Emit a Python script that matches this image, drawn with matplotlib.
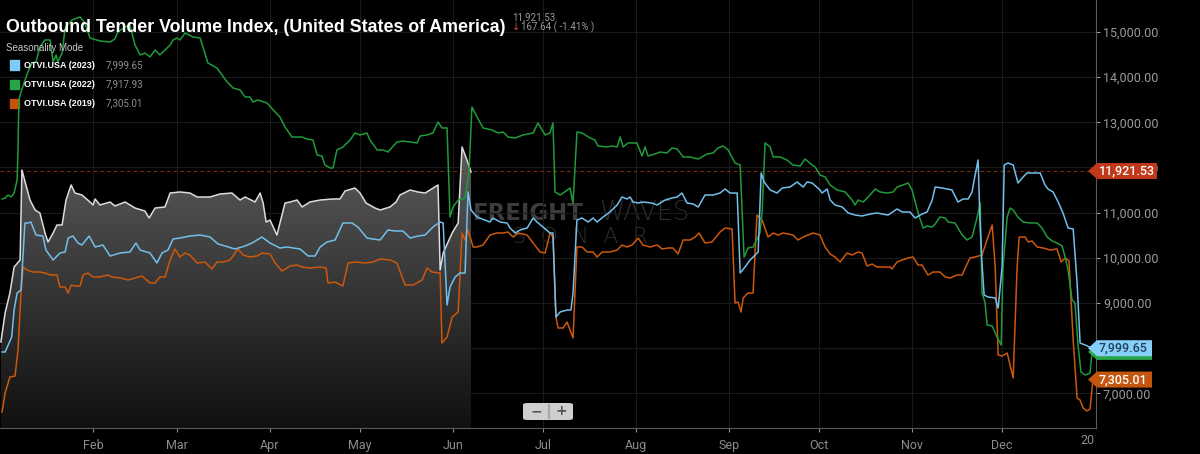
import numpy as np
import matplotlib
matplotlib.use("Agg")
import matplotlib.pyplot as plt
from matplotlib.colors import LinearSegmentedColormap
from matplotlib.patches import Polygon, FancyBboxPatch, Rectangle

# ----- data (day of year, index value) -----
months = ["Feb", "Mar", "Apr", "May", "Jun", "Jul", "Aug", "Sep", "Oct", "Nov", "Dec"]
month_days = [31, 59, 90, 120, 151, 181, 212, 243, 273, 304, 334]
y_ticks = [7000, 8000, 9000, 10000, 11000, 12000, 13000, 14000, 15000]

# shaded (selected) series, only drawn up to early June
days_sel = [0.3, 1.7, 3.3, 4.7, 6.7, 7.3, 10.0, 11.7, 13.3, 15.0, 16.0, 17.7, 19.0, 20.7, 22.0, 23.7,
            25.0, 27.3, 30.0, 31.0, 31.7, 33.3, 36.7, 38.3, 41.7, 45.0, 48.3, 49.7, 51.7, 55.0, 56.7,
            60.0, 63.3, 65.7, 70.0, 73.3, 77.3, 80.0, 81.7, 85.0, 86.7, 87.7, 88.7, 90.0, 92.3, 95.0,
            96.7, 99.0, 100.7, 103.3, 106.7, 111.0, 113.3, 115.0, 118.3, 120.0, 122.0, 125.0, 126.7,
            130.0, 132.0, 133.3, 136.7, 139.3, 141.7, 146.0, 146.7, 147.7, 150.7, 152.7, 154.0, 156.0,
            157.0]
otvi_sel = [8137, 8779, 9221, 9797, 9952, 11945, 11280, 11059, 10993, 10550, 10351, 10550, 10727,
            10727, 11280, 11613, 11435, 11391, 11236, 11170, 11303, 11170, 11236, 11148, 11236, 11103,
            11037, 10882, 11103, 11126, 11435, 11458, 11435, 11347, 11347, 11413, 11435, 11280, 11347,
            11236, 11435, 11214, 10793, 10837, 10505, 11214, 11236, 11280, 11126, 11236, 11280, 11303,
            11303, 11480, 11546, 11435, 11214, 11103, 11059, 11126, 11236, 11391, 11502, 11458, 11435,
            11613, 9731, 10107, 10550, 10771, 12454, 12100, 11900]

days_23 = [0.7, 1.7, 3.9, 4.7, 5.7, 7.0, 8.3, 9.3, 10.3, 12.0, 14.3, 15.3, 17.7, 20.0, 21.7, 22.7,
           24.3, 26.0, 27.3, 29.7, 31.7, 34.3, 36.7, 40.0, 43.3, 45.3, 46.7, 50.0, 52.3, 54.0, 56.0,
           57.7, 60.0, 63.3, 66.7, 70.0, 72.7, 75.0, 78.3, 81.7, 84.0, 87.3, 90.0, 93.3, 95.7, 97.7,
           100.0, 102.7, 105.0, 106.7, 109.0, 111.7, 114.3, 117.3, 119.3, 122.3, 124.3, 126.7, 129.3,
           131.7, 134.3, 136.7, 139.3, 141.7, 144.3, 146.7, 147.7, 149.0, 150.0, 151.7, 153.3, 155.0,
           156.0, 157.0, 159.0, 163.3, 164.3, 166.7, 169.0, 170.0, 171.7, 173.3, 175.7, 177.7, 179.0,
           181.0, 183.3, 184.3, 185.3, 186.7, 189.0, 190.3, 191.0, 192.3, 194.0, 196.0, 197.7, 199.0,
           201.0, 203.3, 205.7, 207.3, 209.0, 210.0, 211.0, 212.7, 214.3, 217.3, 219.0, 221.7, 224.0,
           225.7, 227.3, 229.0, 231.0, 232.7, 235.0, 237.7, 240.0, 241.7, 243.3, 245.7, 246.7, 248.3,
           250.0, 252.7, 253.7, 254.7, 256.7, 259.0, 260.7, 263.3, 265.7, 267.7, 269.0, 270.7, 273.3,
           274.0, 275.7, 276.7, 278.3, 280.7, 282.7, 285.0, 287.3, 290.0, 292.3, 296.0, 299.0, 300.7,
           303.3, 305.0, 307.3, 309.0, 310.7, 311.7, 314.0, 317.3, 319.3, 321.0, 322.7, 324.0, 324.7,
           326.0, 326.7, 327.3, 328.0, 329.3, 331.7, 332.7, 334.0, 334.7, 336.0, 337.7, 339.3, 340.7,
           342.3, 346.7, 348.3, 349.3, 351.0, 352.7, 354.3, 356.0, 357.7, 359.0, 360.0, 361.7, 364.0]
otvi_23 = [7916, 7916, 8247, 8845, 9221, 9288, 10771, 10771, 10793, 10505, 10483, 10173, 9952, 10107,
           10129, 10439, 10483, 10328, 10284, 10483, 10240, 10284, 10041, 10107, 10129, 10328, 10173,
           10107, 9886, 10107, 10173, 10417, 10439, 10483, 10505, 10461, 10306, 10262, 10196, 10262,
           10328, 10461, 10328, 10218, 10240, 10218, 10196, 10041, 10041, 10240, 10351, 10395, 10771,
           10771, 10682, 10439, 10417, 10395, 10616, 10594, 10594, 10439, 10483, 10505, 10682, 10793,
           10771, 8956, 9354, 9576, 9664, 9664, 11458, 11059, 10904, 10793, 10882, 10793, 10771, 10660,
           10550, 10616, 10660, 10882, 10793, 10682, 10550, 10550, 8690, 8801, 8845, 8845, 9221, 10837,
           10882, 10793, 10882, 10793, 10904, 11015, 11170, 11347, 11303, 11347, 11236, 11214, 11236,
           11214, 11170, 11280, 11325, 11347, 11435, 11214, 11192, 11126, 11391, 11391, 11435, 11524,
           11435, 11435, 9664, 9797, 9952, 10129, 11878, 11679, 11502, 11435, 11546, 11568, 11679,
           11568, 11679, 11657, 11502, 11435, 11524, 11280, 11170, 11126, 10993, 10948, 10926, 10970,
           10993, 10948, 11081, 11015, 11015, 10882, 10970, 11015, 11280, 11568, 11546, 11502, 11236,
           11303, 11303, 11458, 11723, 12166, 10682, 9886, 9177, 9133, 9111, 8890, 9797, 12055, 12100,
           12055, 11657, 11768, 11878, 11878, 11613, 11524, 11458, 11236, 10993, 10660, 10638, 9443,
           8114, 8070, 7999.65]

days_22 = [0.7, 1.7, 2.7, 3.7, 4.7, 5.7, 6.0, 6.3, 7.0, 8.0, 9.3, 10.7, 12.0, 13.3, 15.0, 16.7, 17.7,
           18.7, 19.3, 20.7, 21.7, 24.0, 26.7, 28.3, 30.0, 33.3, 36.7, 38.3, 39.3, 41.7, 43.3, 45.0,
           46.7, 48.3, 50.0, 51.7, 53.3, 55.0, 56.7, 57.7, 59.0, 60.0, 61.7, 64.3, 66.7, 69.3, 72.3,
           75.7, 77.7, 80.0, 81.7, 83.3, 84.3, 86.0, 89.0, 91.7, 93.3, 95.0, 97.3, 100.7, 102.3, 104.3,
           105.7, 107.3, 108.3, 110.0, 111.0, 112.3, 114.3, 116.7, 118.3, 120.0, 122.3, 123.3, 125.7,
           127.7, 129.3, 132.3, 134.3, 136.7, 139.0, 140.0, 142.3, 144.3, 146.0, 147.3, 149.0, 150.0,
           151.0, 152.7, 155.0, 156.3, 157.3, 159.0, 161.0, 164.0, 166.0, 167.7, 169.3, 171.7, 174.3,
           177.7, 179.3, 181.7, 183.3, 184.3, 185.0, 186.7, 187.7, 190.0, 191.0, 192.3, 194.0, 196.7,
           198.3, 199.3, 202.3, 204.0, 205.7, 206.7, 207.7, 209.3, 212.3, 214.0, 215.0, 216.0, 218.3,
           220.0, 222.3, 224.0, 225.7, 227.7, 230.0, 232.7, 235.7, 237.7, 239.3, 241.0, 242.7, 245.0,
           246.7, 248.0, 249.3, 251.0, 253.3, 254.0, 255.0, 256.7, 257.7, 260.0, 262.3, 264.3, 266.7,
           268.3, 270.7, 271.7, 273.3, 275.0, 276.7, 279.0, 281.7, 284.0, 285.0, 286.0, 287.7, 290.0,
           291.7, 293.3, 295.7, 297.7, 299.0, 301.0, 302.7, 304.0, 306.0, 307.7, 309.0, 310.7, 311.7,
           313.3, 315.0, 316.0, 318.3, 320.7, 322.3, 324.0, 325.7, 326.7, 327.3, 328.3, 329.0, 330.7,
           332.3, 333.7, 334.3, 335.7, 336.7, 337.7, 339.0, 341.0, 343.3, 345.7, 347.3, 349.0, 350.7,
           352.3, 354.0, 355.0, 356.0, 357.3, 358.3, 359.3, 360.3, 361.7, 363.3, 364.0]
otvi_22 = [11303, 11325, 11391, 11347, 11435, 11723, 12388, 13494, 13672, 13871, 14114, 14314, 14336,
           14668, 14823, 14823, 14336, 14491, 14336, 14535, 15089, 15266, 15332, 15199, 14867, 14801,
           14779, 14845, 15000, 15111, 15155, 14712, 14491, 14535, 14446, 14601, 14491, 14601, 14712,
           14823, 14867, 14823, 14978, 14889, 14867, 14314, 14203, 13893, 13760, 13716, 13561, 13561,
           13450, 13494, 13428, 13229, 13118, 12897, 12675, 12675, 12631, 12609, 12277, 12255, 12055,
           11989, 11989, 12388, 12454, 12609, 12764, 12720, 12764, 12609, 12388, 12388, 12343, 12565,
           12587, 12565, 12543, 12697, 12720, 12764, 13007, 12875, 12875, 10904, 11126, 11280, 11325,
           11878, 13340, 13118, 12875, 12830, 12764, 12786, 12675, 12653, 12720, 12764, 12985, 12720,
           12764, 12985, 11458, 11391, 11435, 11546, 11214, 12786, 12764, 12653, 12609, 12476, 12454,
           12476, 12454, 12675, 12454, 12543, 12543, 12255, 12454, 12255, 12299, 12343, 12321, 12432,
           12410, 12233, 12233, 12188, 12299, 12321, 12432, 12476, 12388, 12100, 12055, 10019, 10218,
           10240, 10550, 10993, 12543, 12454, 12233, 12233, 12166, 12055, 12033, 12188, 12055, 12011,
           11834, 11790, 11613, 11502, 11458, 11280, 11170, 11280, 11236, 11391, 11524, 11458, 11435,
           11458, 11568, 11613, 11657, 11502, 10993, 10660, 10704, 10682, 10749, 10904, 10882, 10793,
           10771, 10505, 10395, 10461, 10904, 11214, 9221, 9022, 8513, 8491, 8247, 8070, 9797, 10904,
           11103, 11059, 10926, 10793, 10771, 10771, 10660, 10461, 10373, 10328, 10262, 10019, 9731,
           9067, 9000, 8070, 7472, 7406, 7450, 7917.93]

days_19 = [0.7, 1.7, 3.3, 5.0, 6.0, 7.0, 7.7, 9.0, 11.0, 13.3, 15.0, 16.7, 19.0, 20.0, 21.7, 22.7,
           23.7, 25.0, 26.7, 27.7, 29.3, 31.0, 33.3, 36.0, 37.3, 40.0, 42.7, 45.0, 47.3, 50.0, 51.7,
           53.3, 55.0, 56.7, 58.3, 60.0, 61.7, 63.3, 65.7, 68.3, 70.7, 72.3, 74.3, 76.7, 79.3, 81.0,
           83.3, 85.7, 87.3, 90.0, 91.7, 94.0, 96.7, 99.0, 100.7, 103.3, 106.7, 108.7, 109.3, 111.7,
           114.3, 116.0, 118.3, 121.7, 124.3, 126.7, 130.0, 132.3, 135.0, 137.7, 140.7, 142.3, 144.0,
           146.7, 147.3, 149.0, 150.7, 152.7, 154.0, 155.0, 156.0, 157.7, 159.0, 161.0, 163.3, 165.7,
           167.7, 169.3, 171.0, 172.7, 175.7, 177.7, 180.0, 181.7, 183.3, 184.3, 185.3, 186.0, 187.7,
           189.0, 191.0, 192.3, 194.0, 195.7, 197.7, 199.0, 200.7, 203.3, 205.7, 207.3, 209.0, 210.7,
           212.7, 214.3, 216.7, 219.0, 220.7, 222.7, 224.3, 226.0, 227.7, 230.0, 231.7, 233.0, 235.0,
           237.3, 240.0, 241.7, 244.0, 245.0, 246.0, 247.0, 247.7, 249.3, 251.0, 252.3, 254.0, 256.0,
           257.7, 259.3, 261.0, 264.3, 266.0, 267.7, 271.0, 273.3, 275.0, 276.7, 278.3, 280.0, 282.3,
           284.0, 286.0, 287.3, 289.0, 290.7, 292.3, 296.7, 297.3, 299.0, 300.7, 302.7, 304.3, 306.0,
           307.3, 309.3, 311.0, 313.3, 315.0, 316.7, 319.0, 320.7, 321.7, 323.3, 325.0, 327.3, 329.3,
           330.7, 331.7, 332.7, 334.0, 335.7, 337.7, 339.0, 339.7, 341.7, 342.7, 344.0, 345.7, 347.7,
           350.0, 352.3, 353.7, 355.0, 356.3, 357.7, 359.0, 360.0, 361.0, 362.3, 363.3, 364.3]
otvi_19 = [6587, 7007, 7362, 7384, 7960, 9221, 9797, 9731, 9686, 9686, 9664, 9620, 9620, 9354, 9354,
           9221, 9399, 9376, 9376, 9620, 9664, 9576, 9576, 9620, 9576, 9554, 9509, 9554, 9598, 9443,
           9443, 9576, 9576, 9952, 10196, 10019, 10107, 10063, 9886, 9908, 9753, 9908, 9908, 9952,
           10196, 10063, 10019, 10041, 10107, 10085, 9886, 9709, 9819, 9841, 9797, 9775, 9797, 9775,
           9443, 9465, 9376, 9886, 9908, 9886, 9908, 9974, 9952, 9886, 9399, 9399, 9509, 9775, 9686,
           9664, 8114, 8247, 8690, 8801, 10550, 10395, 10616, 10240, 10240, 10284, 10505, 10550, 10550,
           10572, 10461, 10550, 10505, 10328, 10129, 10107, 10550, 10461, 8690, 8447, 8447, 8579, 8225,
           10240, 10240, 10129, 10129, 10019, 10129, 10129, 10173, 10284, 10240, 10284, 10439, 10284,
           10240, 10284, 10196, 10218, 10218, 10085, 10395, 10395, 10461, 10550, 10328, 10351, 10572,
           10660, 10638, 9000, 9022, 8801, 9111, 9221, 9221, 10948, 10837, 10461, 10550, 10505, 10550,
           10505, 10395, 10461, 10550, 10505, 10240, 10085, 10019, 9908, 10107, 10063, 10129, 10107,
           9819, 9863, 9797, 9797, 9753, 9908, 9952, 9996, 10019, 9841, 9841, 9620, 9686, 9686, 9576,
           9554, 9620, 9620, 9775, 9996, 10019, 10063, 10461, 10727, 9797, 7849, 7827, 7893, 7340, 9797,
           10461, 10461, 10351, 10373, 10240, 10218, 10173, 10196, 9908, 9996, 9930, 8181, 6897, 6852,
           6675, 6609, 6653, 7305.01]

series_names = ["OTVI.USA (2023)", "OTVI.USA (2022)", "OTVI.USA (2019)"]
last_values = [7999.65, 7917.93, 7305.01]
ref_value = 11921.53

# ----- style -----
c23, c22, c19, csel = "#72bfec", "#1f9b3b", "#cc580c", "#dcdcdc"
W, H = 1200, 454

fig = plt.figure(figsize=(12, 4.54), dpi=100, facecolor="black")
ax = fig.add_axes([0, 1 - 428 / H, 1096 / W, 428 / H], facecolor="black")
xmin, xmax = 0, 365.3
ymin, ymax = 6233, 15708

# gradient area under the selected series
fill = ax.fill_between(days_sel, otvi_sel, ymin, color="none", lw=0)
cmap = LinearSegmentedColormap.from_list("g", ["#101010", "#5c5c5c"])
grad = np.linspace(0, 1, 256).reshape(-1, 1)
im = ax.imshow(grad, extent=[0, days_sel[-1], ymin, 12500], origin="lower",
               cmap=cmap, aspect="auto", zorder=1)
im.set_clip_path(fill.get_paths()[0], transform=ax.transData)

# watermark
fig.text(473 / W, 1 - 213 / H, "FREIGHT", fontsize=16.5, fontweight="bold",
         family="DejaVu Sans", color="#3c3c3c", ha="left", va="center", zorder=0.5)
fig.text(599 / W, 1 - 213 / H, "WAVES", fontsize=18.5, fontweight="light",
         family="DejaVu Sans", color="#2e2e2e", ha="left", va="center", zorder=0.5)
fig.text(580 / W, 1 - 237 / H, "S  O  N  A  R", fontsize=16,
         family="DejaVu Sans", fontweight="light", color="#2e2e2e", ha="center", va="center",
         zorder=0.5)

# grid
for m in month_days:
    ax.axvline(m, color="#1a1a1a", lw=0.8, zorder=0.5)
for t in y_ticks:
    ax.axhline(t, color="#1a1a1a", lw=0.8, zorder=0.5)
ax.axhline(ref_value, color="#8a2a16", lw=0.8, ls=(0, (3, 3)), zorder=2)

ax.plot(days_sel, otvi_sel, color=csel, lw=1.1, zorder=3)
ax.plot(days_19, otvi_19, color=c19, lw=1.1, zorder=4)
ax.plot(days_22, otvi_22, color=c22, lw=1.1, zorder=4)
ax.plot(days_23, otvi_23, color=c23, lw=1.1, zorder=5)

ax.set_xlim(xmin, xmax)
ax.set_ylim(ymin, ymax)
ax.patch.set_alpha(0)
ax.set_zorder(1)

# axes
for s in ["top", "left"]:
    ax.spines[s].set_visible(False)
ax.spines["right"].set_color("#5a5a5a")
ax.spines["bottom"].set_color("#5a5a5a")
ax.yaxis.tick_right()
ax.set_yticks(y_ticks)
ax.set_yticklabels([f"{t:,.2f}" for t in y_ticks])
ax.set_xticks(month_days)
ax.set_xticklabels(months)
ax.tick_params(axis="y", colors="#9a9a9a", labelsize=9, length=3, pad=2, labelfontfamily="Roboto")
ax.tick_params(axis="x", colors="#8c8c8c", labelsize=9, length=3, pad=5, labelfontfamily="Roboto")
fig.text(1095 / W, 1 - 441 / H, "20", color="#8c8c8c", fontsize=9, family="Roboto",
         ha="right", va="center")

# title and legend
fig.text(6 / W, 1 - 28 / H, "Outbound Tender Volume Index, (United States of America)",
         color="white", fontsize=12.8, fontweight="bold", family="Liberation Sans", va="center")
fig.text(512 / W, 1 - 17 / H, "11,921.53", color="#9a9a9a", fontsize=7, family="Roboto",
         va="center")
fig.text(512 / W, 1 - 27 / H, "\u2193", color="#e04040", fontsize=7, family="DejaVu Sans",
         va="center")
fig.text(521 / W, 1 - 27 / H, "167.64 ( -1.41% )", color="#9a9a9a", fontsize=7, family="Roboto",
         va="center")
fig.text(6 / W, 1 - 48 / H, "Seasonality Mode", color="#c8c8c8", fontsize=7,
         family="Liberation Sans", va="center")
legend_colors = ["#80ccf6", "#27a447", "#c6520c"]
for i, (name, val, col) in enumerate(zip(series_names, last_values, legend_colors)):
    yc = 65 + 19.3 * i
    fig.add_artist(Rectangle((10 / W, 1 - (yc + 4.5) / H), 9 / W, 9 / H,
                             transform=fig.transFigure, color=col))
    fig.text(24 / W, 1 - yc / H, name, color="white", fontsize=6.5, fontweight="bold",
             family="Liberation Sans", va="center")
    fig.text(106 / W, 1 - yc / H, f"{val:,.2f}", color="#8f8f8f", fontsize=7,
             family="Roboto", va="center")


def tag(value, face, tcolor, right, z, show_text=True):
    # price tag on the right axis, position from the data transform
    y = ax.transData.transform((0, value))[1]
    x0, x1 = 1088, 1097
    pts = [(x0, y), (x1, y + 8), (right, y + 8), (right, y - 8), (x1, y - 8)]
    pts = [(px / W, py / H) for px, py in pts]
    fig.add_artist(Polygon(pts, closed=True, transform=fig.transFigure, facecolor=face,
                           edgecolor="none", zorder=z))
    if show_text:
        fig.text((x1 + 2) / W, y / H, f"{value:,.2f}", color=tcolor, fontsize=9,
                 fontweight="medium", family="Roboto", va="center", ha="left", zorder=z + 0.5)


fig.canvas.draw()
tag(ref_value, "#c0391a", "white", 1157, 10)
tag(last_values[1], "#2aa64a", "white", 1152, 12, show_text=False)
tag(last_values[0], "#86cff8", "#1f3f5c", 1152, 14)
tag(last_values[2], "#c4560f", "white", 1152, 16)

# zoom buttons
fig.add_artist(FancyBboxPatch((523 / W, 1 - 420 / H), 50 / W, 17 / H,
                              boxstyle="round,pad=0,rounding_size=0.004",
                              transform=fig.transFigure, facecolor="#cfcfcf", edgecolor="none",
                              zorder=20))
fig.add_artist(Rectangle((548 / W, 1 - 418 / H), 1 / W, 14 / H, transform=fig.transFigure,
                         color="#a8a8a8", zorder=21))
fig.text(536 / W, 1 - 411 / H, "\u2212", color="#555555", fontsize=10, fontweight="bold",
         ha="center", va="center", zorder=22)
fig.text(561 / W, 1 - 411 / H, "+", color="#555555", fontsize=10, fontweight="bold",
         ha="center", va="center", zorder=22)

fig.savefig("out.png", dpi=100, facecolor="black")
